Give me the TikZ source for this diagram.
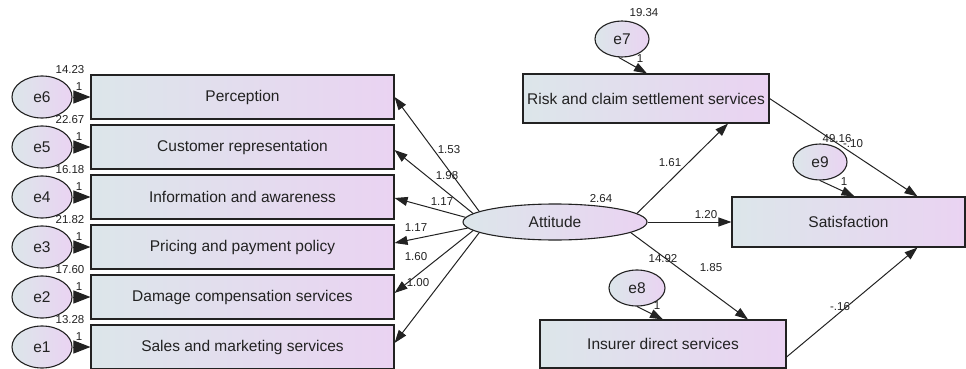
\documentclass[tikz,border=0pt]{standalone}
\usepackage{fontspec}
\setmainfont{Liberation Sans}
\usetikzlibrary{arrows.meta,shapes.geometric}
\definecolor{lblue}{HTML}{DCE6EA}
\definecolor{lpurp}{HTML}{EAD3F2}
\definecolor{ink}{HTML}{222222}
\begin{document}
\begin{tikzpicture}[x=1pt,y=-1pt,
  obs/.style={draw=ink, line width=1.1pt, left color=lblue, right color=lpurp, inner sep=0pt, font=\fontsize{15.5}{17}\selectfont, text=ink},
  lat/.style={ellipse, draw=ink, line width=1.1pt, left color=lblue, right color=lpurp, inner sep=0pt, font=\fontsize{15.5}{17}\selectfont, text=ink},
  num/.style={font=\fontsize{11.5}{13}\selectfont, text=ink, inner sep=0pt},
  path/.style={draw=ink, line width=1pt, -{Triangle[length=13pt,width=9pt]}},
  errarr/.style={draw=ink, line width=1pt, -{Triangle[length=17pt,width=13pt]}}
]
\useasboundingbox (0,0) rectangle (966,369);
% left observed boxes
\foreach \nm/\txt/\yy in {perc/Perception/97, cust/Customer representation/147, info/Information and awareness/197, pric/Pricing and payment policy/247, dama/Damage compensation services/297, sale/Sales and marketing services/347}{
  \node[obs, minimum width=303pt, minimum height=44pt] (\nm) at (242.5,\yy) {\txt};
}
% left error terms
\foreach \en/\bx/\yy/\vv in {e6/perc/97/14.23, e5/cust/147/22.67, e4/info/197/16.18, e3/pric/247/21.82, e2/dama/297/17.60, e1/sale/347/13.28}{
  \node[lat, minimum width=60pt, minimum height=42pt] (\en) at (42,\yy) {\en};
  \draw[errarr] (\en.east) -- (\bx.west);
  \node[num] (v\en) at (70,\yy-27) {\vv};
  \node[num] (o\en) at (79,\yy-10) {1};
}
% latent
\node[lat, minimum width=184pt, minimum height=36pt] (att) at (555,222) {Attitude};
\node[num] (vatt) at (601,199) {2.64};
% right boxes
\node[obs, minimum width=246pt, minimum height=49pt] (risk) at (646,98.5) {Risk and claim settlement services};
\node[obs, minimum width=233pt, minimum height=50pt] (sat) at (848.5,222) {Satisfaction};
\node[obs, minimum width=246pt, minimum height=48pt] (ins) at (663,344) {Insurer direct services};
% right errors
\node[lat, minimum width=54pt, minimum height=36pt] (e7) at (622,39) {e7};
\node[lat, minimum width=56pt, minimum height=36pt] (e8) at (637,288) {e8};
\node[lat, minimum width=54pt, minimum height=36pt] (e9) at (820,162) {e9};
\node[num] (ve7) at (644,13) {19.34};
\node[num] (ve8) at (663,259) {14.92};
\node[num] (ve9) at (837,139) {49.16};
\draw[path] (e7.-100) -- ([xshift=1pt]risk.north);
\draw[path] (e8.-90) -- (ins.north);
\draw[path] (e9.-90) -- ([xshift=6pt]sat.north);
\node[num] (o7) at (640,59) {1};
\node[num] (o8) at (657,306) {1};
\node[num] (o9) at (844,182) {1};
% attitude to left boxes
\draw[path] (att.172) -- (perc.east);
\draw[path] (att.174) -- ([yshift=-3pt]cust.east);
\draw[path] (att.177) -- ([yshift=-1pt]info.east);
\draw[path] (att.184) -- ([yshift=4pt]pric.east);
\draw[path] (att.186) -- ([yshift=4pt]dama.east);
\draw[path] (att.188) -- ([yshift=4pt]sale.east);
\node[num] (l1) at (449,150) {1.53};
\node[num] (l2) at (447,176) {1.98};
\node[num] (l3) at (442,202) {1.17};
\node[num] (l4) at (416,228) {1.17};
\node[num] (l5) at (416,257) {1.60};
\node[num] (l6) at (418,283) {1.00};
% attitude to right
\draw[path] (att.6) -- ([xshift=82pt]risk.south);
\draw[path] (att.east) -- (sat.west);
\draw[path] (att.-8) -- ([xshift=85pt]ins.north);
\draw[path] (risk.east) -- ([xshift=69pt]sat.north);
\draw[path] ([yshift=-13pt]ins.east) -- ([xshift=69pt]sat.south);
\node[num] (l7) at (670,163) {1.61};
\node[num] (l8) at (706,215) {1.20};
\node[num] (l9) at (711,268) {1.85};
\node[num] (l10) at (853,144) {-.10};
\node[num] (l11) at (840,307) {-.16};
\end{tikzpicture}
\end{document}
